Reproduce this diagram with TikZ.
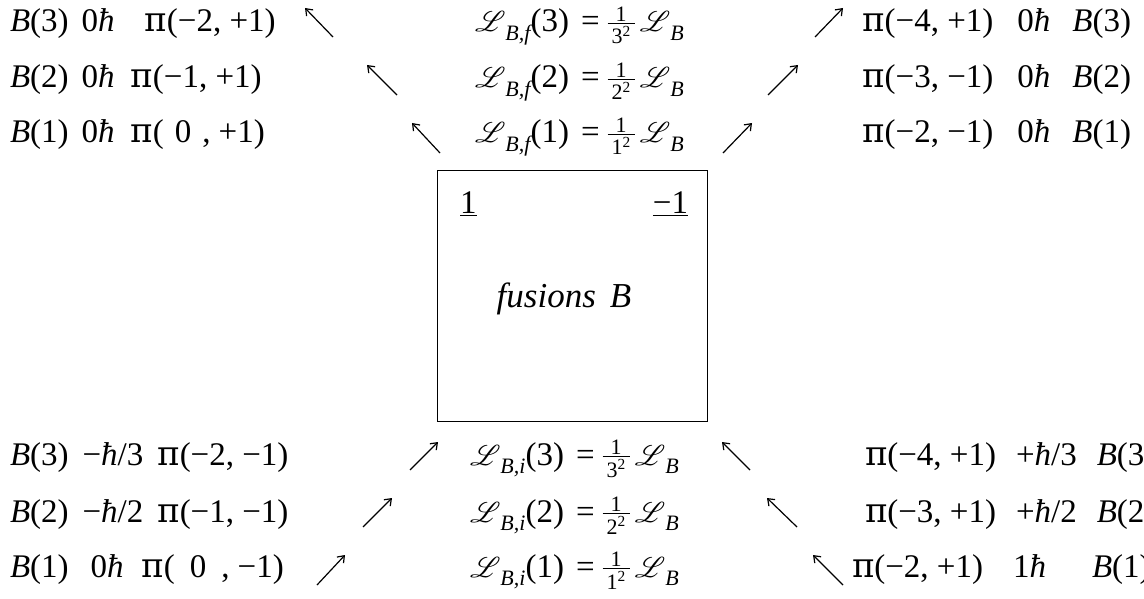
\documentclass[tikz,border=0pt]{standalone}
\usepackage{fontspec}
\usepackage{graphicx}
\usepackage{mathrsfs}
\setmainfont{Liberation Serif}
\newfontfamily\dvs{DejaVu Serif}
\usetikzlibrary{arrows.meta}
\newcommand{\pI}{{\dvs\fontsize{34}{38}\selectfont π}}
\newcommand{\hb}{\textit{ħ}}
\newcommand{\Lsc}{\scalebox{1.15}{$\mathscr{L}$}}
\newcommand{\lsub}[1]{\raisebox{-0.25em}{\fontsize{22}{22}\selectfont\itshape #1}}
\newcommand{\fr}[1]{\raisebox{-12pt}{\fontsize{22}{22}\selectfont\vbox{\offinterlineskip\halign{\hfil\hspace{4pt}##\hspace{4pt}\hfil\cr 1\cr\noalign{\kern2pt\hrule height 1.1pt\kern2pt}#1\textsuperscript{2}\cr}}}}
\newcommand{\zr}[1]{\hspace{#1}0\hspace{#1},\hspace{8pt}}
\begin{document}
\begin{tikzpicture}[x=1pt,y=-1pt,
  txt/.style={font=\fontsize{33}{38}\selectfont, inner sep=0pt, outer sep=0pt},
  arr/.style={-{Straight Barb[length=6pt,width=9pt]}, line width=1.2pt},
  frame/.style={draw, line width=1.4pt}]
\useasboundingbox (0,0) rectangle (1144,599);
% central box
\node[frame, minimum width=270pt, minimum height=251pt, inner sep=0pt, anchor=north west] (box) at (437,170) {};
\node[txt, anchor=base west] (one) at (460,214) {\underline{1}};
\node[txt, anchor=base east] (mone) at (688,214) {\underline{−1}};
\node[txt, anchor=base, font=\fontsize{35}{40}\selectfont] (fus) at (564,307) {\textit{fusions}\hspace{14pt}\textit{B}};
% top left
\node[txt, anchor=base west] (tl1) at (10,32) {\textit{B}(3)\hspace{13pt}0\hb\hspace{30pt}\pI(−2, +1)};
\node[txt, anchor=base west] (tl2) at (10,88) {\textit{B}(2)\hspace{13pt}0\hb\hspace{16pt}\pI(−1, +1)};
\node[txt, anchor=base west] (tl3) at (10,143) {\textit{B}(1)\hspace{13pt}0\hb\hspace{16pt}\pI(\zr{11pt}+1)};
% top middle
\node[txt, anchor=base west] (lf3) at (475,32) {\Lsc\lsub{B,f}(3)\hspace{12pt}=\hspace{8pt}\fr{3}\hspace{5pt}\Lsc\lsub{B}};
\node[txt, anchor=base west] (lf2) at (475,88) {\Lsc\lsub{B,f}(2)\hspace{12pt}=\hspace{8pt}\fr{2}\hspace{5pt}\Lsc\lsub{B}};
\node[txt, anchor=base west] (lf1) at (475,143) {\Lsc\lsub{B,f}(1)\hspace{12pt}=\hspace{8pt}\fr{1}\hspace{5pt}\Lsc\lsub{B}};
% top right
\node[txt, anchor=base east] (tr1) at (1131,32) {\pI(−4, +1)\hspace{24pt}0\hb\hspace{22pt}\textit{B}(3)};
\node[txt, anchor=base east] (tr2) at (1131,88) {\pI(−3, −1)\hspace{24pt}0\hb\hspace{22pt}\textit{B}(2)};
\node[txt, anchor=base east] (tr3) at (1131,143) {\pI(−2, −1)\hspace{24pt}0\hb\hspace{22pt}\textit{B}(1)};
% bottom left
\node[txt, anchor=base west] (bl3) at (10,465) {\textit{B}(3)\hspace{14pt}−\hb/3\hspace{14pt}\pI(−2, −1)};
\node[txt, anchor=base west] (bl2) at (10,522) {\textit{B}(2)\hspace{14pt}−\hb/2\hspace{14pt}\pI(−1, −1)};
\node[txt, anchor=base west] (bl1) at (10,577) {\textit{B}(1)\hspace{22pt}0\hb\hspace{18pt}\pI(\zr{15pt}−1)};
% bottom middle
\node[txt, anchor=base west] (li3) at (470,465) {\Lsc\lsub{B,i}(3)\hspace{12pt}=\hspace{8pt}\fr{3}\hspace{5pt}\Lsc\lsub{B}};
\node[txt, anchor=base west] (li2) at (470,522) {\Lsc\lsub{B,i}(2)\hspace{12pt}=\hspace{8pt}\fr{2}\hspace{5pt}\Lsc\lsub{B}};
\node[txt, anchor=base west] (li1) at (470,577) {\Lsc\lsub{B,i}(1)\hspace{12pt}=\hspace{8pt}\fr{1}\hspace{5pt}\Lsc\lsub{B}};
% bottom right
\node[txt, anchor=base west] (br3) at (865,465) {\pI(−4, +1)\hspace{20pt}+\hb/3\hspace{20pt}\textit{B}(3)};
\node[txt, anchor=base west] (br2) at (865,522) {\pI(−3, +1)\hspace{20pt}+\hb/2\hspace{20pt}\textit{B}(2)};
\node[txt, anchor=base west] (br1) at (852,577) {\pI(−2, +1)\hspace{30pt}1\hb\hspace{46pt}\textit{B}(1)};
% arrows
\coordinate (a1s) at (333,37); \coordinate (a1e) at (305,8);
\coordinate (a2s) at (397,95); \coordinate (a2e) at (367,65);
\coordinate (a3s) at (440,153); \coordinate (a3e) at (412,123);
\coordinate (b1s) at (815,37); \coordinate (b1e) at (843,8);
\coordinate (b2s) at (768,95); \coordinate (b2e) at (798,65);
\coordinate (b3s) at (723,153); \coordinate (b3e) at (752,123);
\coordinate (c1s) at (410,470); \coordinate (c1e) at (438,442);
\coordinate (c2s) at (363,527); \coordinate (c2e) at (392,498);
\coordinate (c3s) at (317,585); \coordinate (c3e) at (345,555);
\coordinate (d1s) at (750,470); \coordinate (d1e) at (722,442);
\coordinate (d2s) at (797,527); \coordinate (d2e) at (767,498);
\coordinate (d3s) at (843,585); \coordinate (d3e) at (813,555);
\foreach \p in {a1,a2,a3,b1,b2,b3,c1,c2,c3,d1,d2,d3}
  \draw[arr] (\p s) -- (\p e);
\end{tikzpicture}
\end{document}
